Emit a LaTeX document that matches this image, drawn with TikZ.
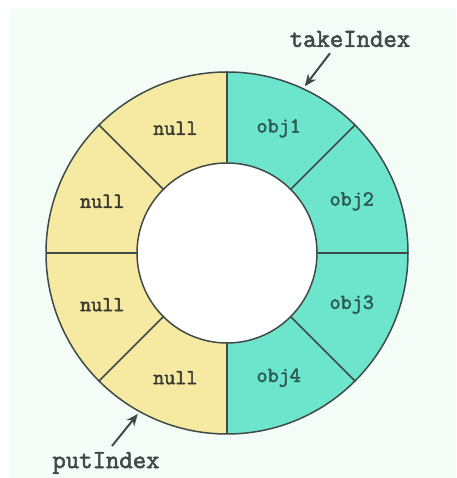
\documentclass[tikz,border=0pt]{standalone}
\usepackage{fontspec}
\newfontfamily\codefont[AutoFakeBold=2.2]{Latin Modern Mono}
\usetikzlibrary{calc,arrows.meta}
\definecolor{bgmint}{HTML}{F3FCF6}
\definecolor{slotyellow}{HTML}{F6E9A2}
\definecolor{slotteal}{HTML}{6DE5CC}
\definecolor{rimgray}{HTML}{404A46}
\definecolor{nulltext}{HTML}{3A3A30}
\definecolor{objtext}{HTML}{2C5A50}
\newcommand{\outerr}{181}
\newcommand{\innerr}{90}
\newcommand{\makeslot}[5]{
	\fill[#3] ($(O)+(#1:\outerr)$) arc (#1:#2:\outerr)
		-- ($(O)+(#2:\innerr)$) arc (#2:#1:\innerr) -- cycle;
	\node[slottext, text=#5] (#4) at ($(O)+({(#1+#2)/2}:135)$) {#4};
}

\begin{document}
\begin{tikzpicture}[x=1pt,y=1pt,
	slottext/.style={font=\codefont\bfseries\fontsize{21.5}{21.5}\selectfont, inner sep=0pt},
	indextext/.style={font=\codefont\bfseries\fontsize{26}{26}\selectfont, text=rimgray, inner sep=0pt},
	pointer/.style={-{Stealth[length=12pt,width=10pt]}, line width=2pt, draw=rimgray},
	rim/.style={draw=rimgray, line width=1.5pt}]
	\useasboundingbox (0,0) rectangle (456,478);
	\fill[white] (0,0) rectangle (456,478);
	\fill[bgmint] (10,0) rectangle (456,469);
	\coordinate (O) at (227,225);

	% the eight slots of the ring
	\makeslot{45}{90}{slotteal}{obj1}{objtext}
	\makeslot{0}{45}{slotteal}{obj2}{objtext}
	\makeslot{-45}{0}{slotteal}{obj3}{objtext}
	\makeslot{-90}{-45}{slotteal}{obj4}{objtext}
	\makeslot{90}{135}{slotyellow}{null}{nulltext}
	\makeslot{135}{180}{slotyellow}{null}{nulltext}
	\makeslot{180}{225}{slotyellow}{null}{nulltext}
	\makeslot{225}{270}{slotyellow}{null}{nulltext}

	\foreach \a in {0,45,...,315}
		\draw[rim] ($(O)+(\a:\innerr)$) -- ($(O)+(\a:\outerr)$);
	\draw[rim] (O) circle (\outerr);
	\draw[rim, fill=white] (O) circle (\innerr);

	% the two indices
	\node[indextext] (take) at (350,439) {takeIndex};
	\node[indextext] (put) at (106,15) {putIndex};
	\coordinate (takeTail) at ($(take.south)+(-20,-6)$);
	\coordinate (takeTip) at ($(O)+(65:184)$);
	\coordinate (putTail) at ($(put.north)+(6,6)$);
	\coordinate (putTip) at ($(O)+(241:184)$);
	\draw[pointer] (takeTail) -- (takeTip);
	\draw[pointer] (putTail) -- (putTip);
\end{tikzpicture}
\end{document}
